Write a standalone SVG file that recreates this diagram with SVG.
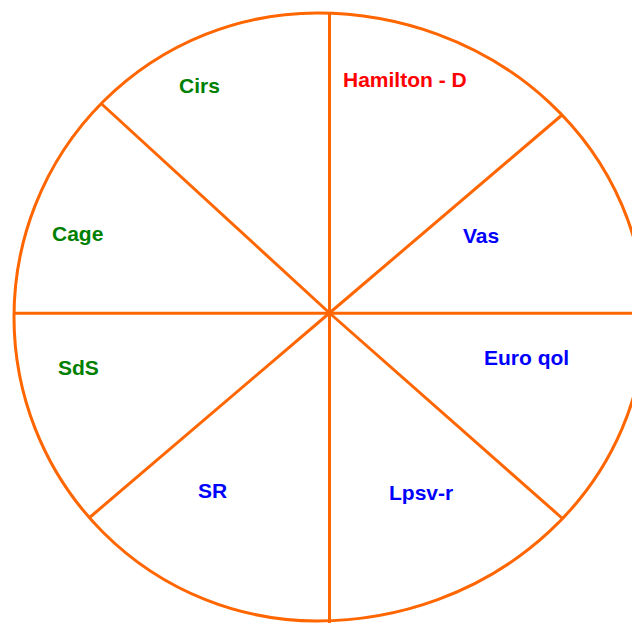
<svg xmlns="http://www.w3.org/2000/svg" width="632" height="623" viewBox="0 0 632 623">
<style>
.ln{fill:none;stroke:#FF6600;stroke-width:3}
.t{font-family:"Liberation Sans",Arial,sans-serif;font-weight:bold;font-size:21px}
.g{fill:#008000}.b{fill:#0000FF}.r{fill:#FF0000}
</style>
<rect width="632" height="623" fill="#ffffff"/>
<g id="connectors">
<path id="ring" class="ln" d="M 317 13 A 328 304 0 0 1 317 621 A 303 304 0 0 1 317 13 Z"/>
<line class="ln" x1="329.5" y1="12" x2="329.5" y2="623"/>
<line class="ln" x1="14" y1="313.3" x2="632" y2="313.3"/>
<line class="ln" x1="329.5" y1="313" x2="101.7" y2="104"/>
<line class="ln" x1="329.5" y1="313" x2="562" y2="115"/>
<line class="ln" x1="329.5" y1="313" x2="89" y2="518"/>
<line class="ln" x1="329.5" y1="313" x2="563" y2="519"/>
</g>
<g id="n-hamilton"><text class="t r" x="343" y="87">Hamilton - D</text></g>
<g id="n-cirs"><text class="t g" x="179" y="93">Cirs</text></g>
<g id="n-vas"><text class="t b" x="463" y="243">Vas</text></g>
<g id="n-cage"><text class="t g" x="52" y="241">Cage</text></g>
<g id="n-euroqol"><text class="t b" x="484" y="365">Euro qol</text></g>
<g id="n-sds"><text class="t g" x="58" y="375">SdS</text></g>
<g id="n-sr"><text class="t b" x="198" y="498">SR</text></g>
<g id="n-lpsv"><text class="t b" x="389" y="500">Lpsv-r</text></g>
</svg>
